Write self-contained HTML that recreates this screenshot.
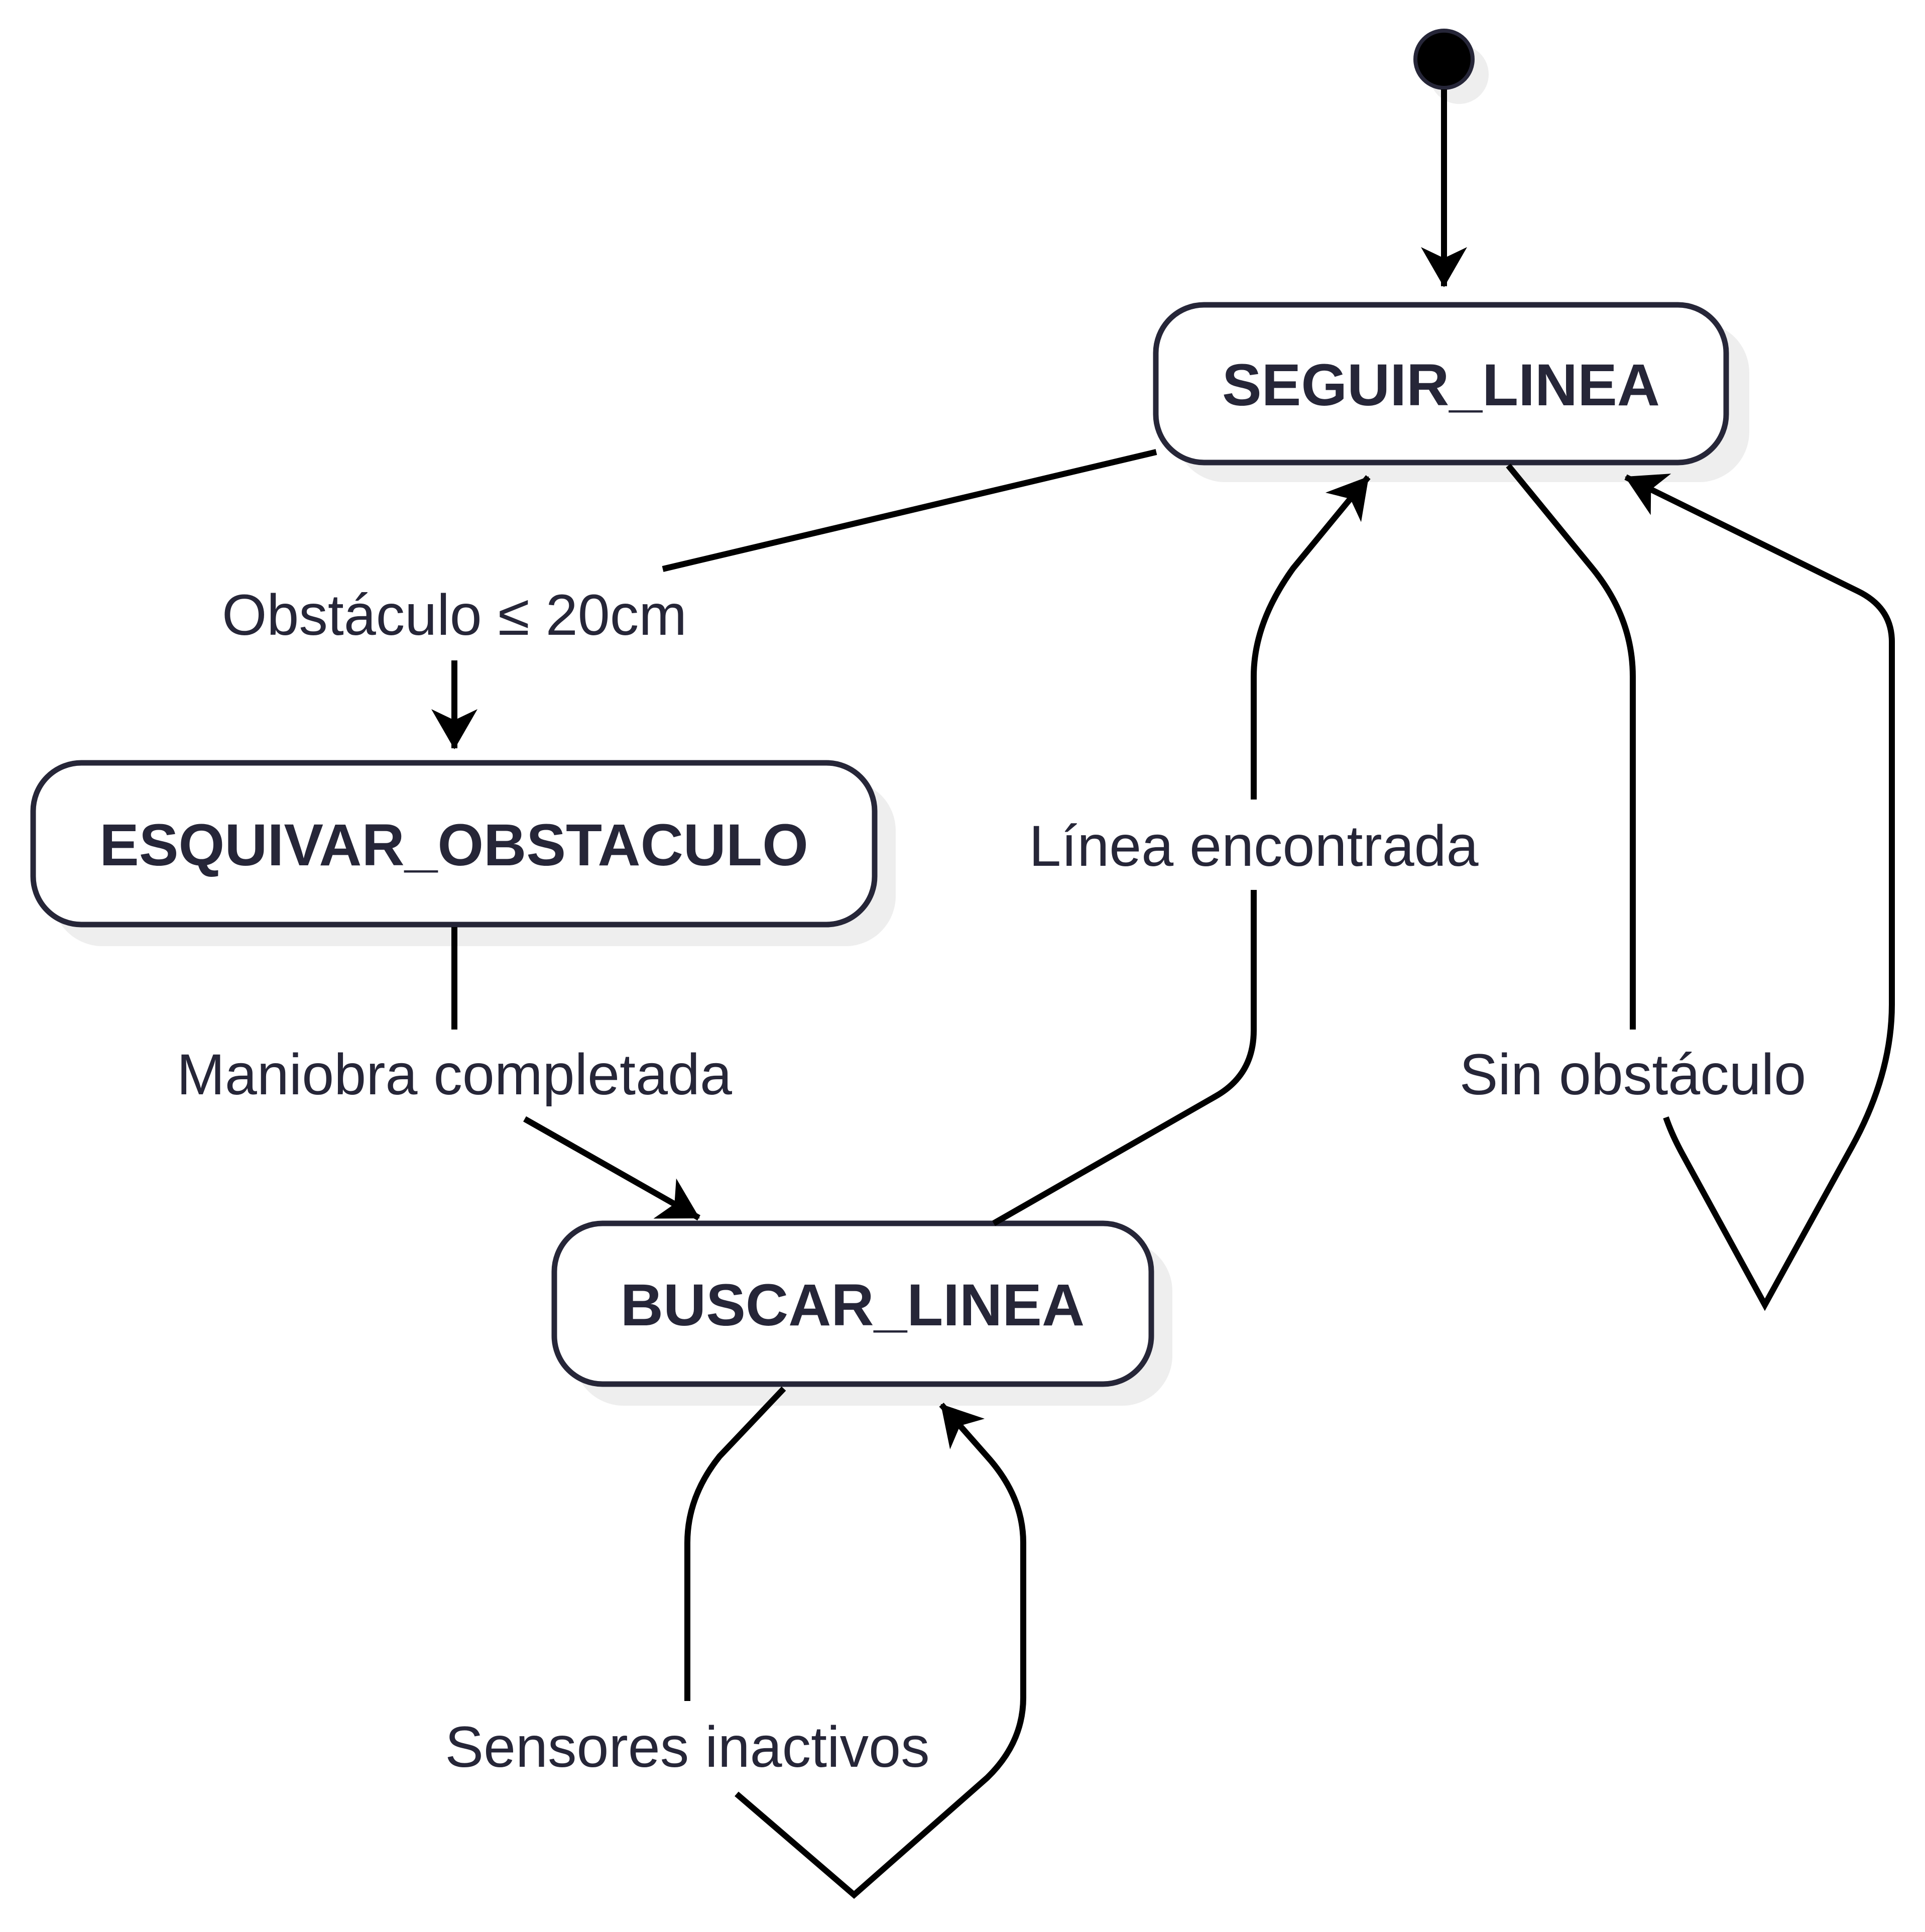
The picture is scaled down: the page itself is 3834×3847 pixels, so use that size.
<!DOCTYPE html>
<html><head><meta charset="utf-8"><style>html,body{margin:0;padding:0;background:#fff}svg{display:block}</style></head>
<body>
<svg width="3834" height="3847" viewBox="0 0 3834 3847" xmlns="http://www.w3.org/2000/svg">
<defs>
<marker id="a" markerUnits="userSpaceOnUse" markerWidth="100" markerHeight="110" refX="78" refY="50" orient="auto">
<path d="M0,4 L80,50 L0,96 L22,50 Z" fill="#000"/>
</marker>
</defs>
<g fill="#eeeeee">
<ellipse cx="2906" cy="148" rx="59" ry="59"/>
<rect x="2340" y="642" width="1144" height="318" rx="100"/>
<rect x="104" y="1554" width="1680" height="330" rx="100"/>
<rect x="1142" y="2471" width="1193" height="328" rx="100"/>
</g>
<circle cx="2876" cy="118" r="57" fill="#000" stroke="#262638" stroke-width="8"/>
<g fill="#fff" stroke="#262638" stroke-width="11">
<rect x="2302" y="607" width="1136" height="314" rx="96"/>
<rect x="66" y="1519" width="1676" height="322" rx="96"/>
<rect x="1104" y="2436" width="1189" height="320" rx="96"/>
</g>
<g font-family="Liberation Sans, sans-serif" font-weight="bold" font-size="118" fill="#262638" text-anchor="middle">
<text x="2870" y="807">SEGUIR_LINEA</text>
<text x="904" y="1723">ESQUIVAR_OBSTACULO</text>
<text x="1698" y="2639">BUSCAR_LINEA</text>
</g>
<g fill="none" stroke="#000" stroke-width="12">
<path d="M2876 178 L2876 570" marker-end="url(#a)"/>
<path d="M2303 900 L1320 1133"/>
<path d="M905 1315 L905 1490" marker-end="url(#a)"/>
<path d="M905 1846 L905 2050"/>
<path d="M1045 2228 L1392 2425" marker-end="url(#a)"/>
<path d="M1979 2436 L2421 2183 Q2497 2140 2497 2052 L2497 1772"/>
<path d="M2497 1592 L2497 1347 Q2497 1240 2576 1131 L2725 950" marker-end="url(#a)"/>
<path d="M3004 927 L3171 1131 Q3252 1230 3252 1347 L3252 2050"/>
<path d="M3318 2225 Q3330 2260 3352 2300 L3515 2598 L3687 2286 Q3768 2140 3768 2000 L3768 1278 Q3768 1210 3700 1177 L3238 950" marker-end="url(#a)"/>
<path d="M1561 2765 L1433 2900 Q1369 2980 1369 3072 L1369 3387"/>
<path d="M1467 3572 L1701 3773 L1966 3540 Q2038 3470 2038 3380 L2038 3072 Q2038 2980 1966 2900 L1875 2797" marker-end="url(#a)"/>
</g>
<g font-family="Liberation Sans, sans-serif" font-size="115" fill="#262638" text-anchor="middle">
<text x="905" y="1264">Obstáculo ≤ 20cm</text>
<text x="905" y="2179">Maniobra completada</text>
<text x="2497" y="1724">Línea encontrada</text>
<text x="3252" y="2179">Sin obstáculo</text>
<text x="1369" y="3518">Sensores inactivos</text>
</g>
</svg>
</body></html>
